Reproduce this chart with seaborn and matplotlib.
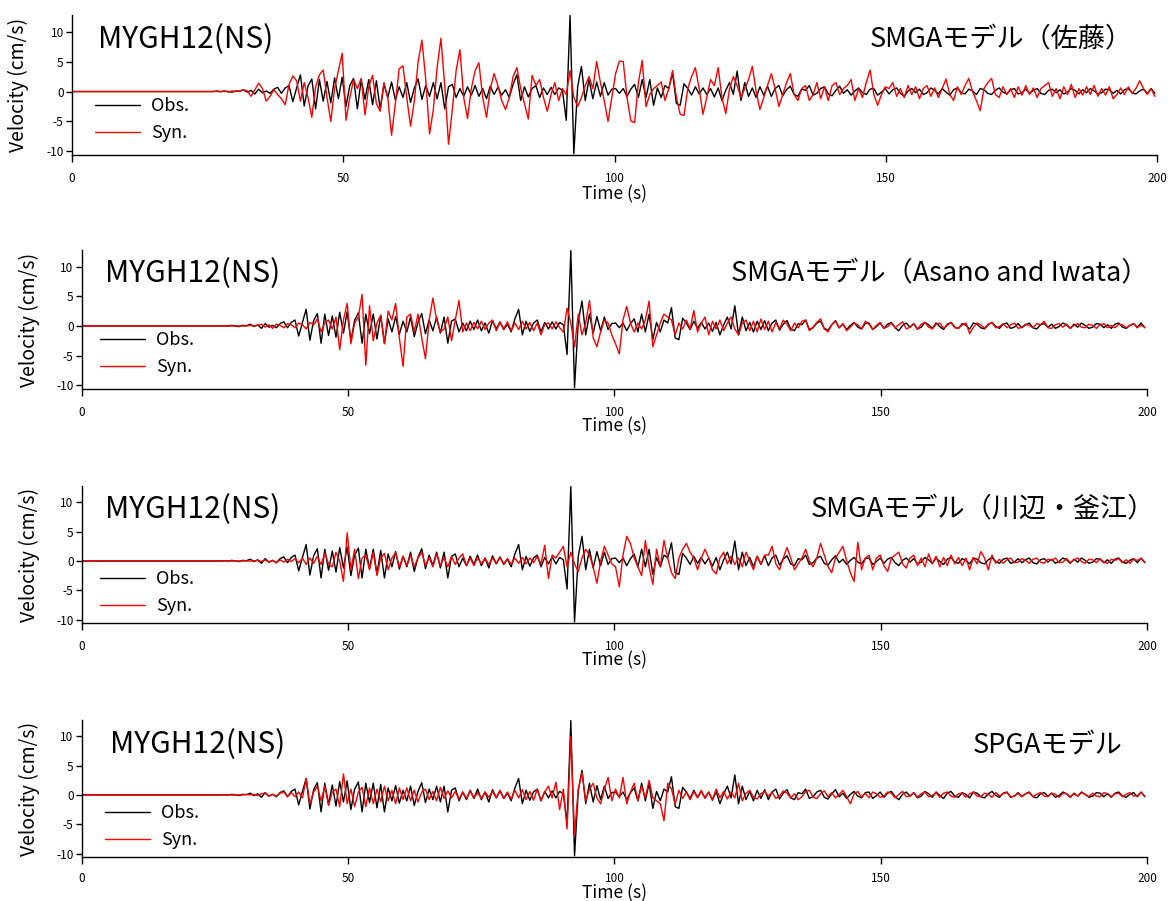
import numpy as np
import pandas as pd
import matplotlib
matplotlib.use("Agg")
import matplotlib.pyplot as plt
import seaborn as sns

# sampled traces: first sample at t_start, step dt (s); zero before t_start
t_start = 26.0
dt = 0.7

obs = [0, 0.05, -0.05, 0.1, 0, -0.1, 0.1, 0.05, 0.3, -0.1,
       0.2, -0.4, 0.4, -0.2, 0.1, -0.3, 0.4, 0.7, -0.3, 0.6,
       1.0, -1.7, 0.6, 2.8, -2.4, 0.9, 2.1, -2.9, 2.0, -1.6,
       1.7, -1.9, 2.3, -1.2, 2.4, -2.5, 1.0, 2.2, -2.9, 2.0,
       -1.3, 2.0, -2.2, 1.8, -2.9, 1.2, -1.0, 1.6, -1.4, 0.8,
       -1.0, 1.5, -1.8, 0.6, 2.1, -1.3, 1.0, -0.8, 1.5, -1.2,
       1.5, -2.9, 0.8, 1.2, -1.0, 0.5, -0.8, 0.8, -0.6, 1.0,
       -0.8, 0.5, -1.2, 0.9, -0.5, 0.7, -0.6, 0.3, -1.0, 1.2,
       2.8, -1.5, 0.8, -0.9, 0.5, 1.0, -1.0, 0.6, -0.5, 0.7,
       -0.5, 0.6, 0.2, -4.8, 12.7, -10.4, 0.8, 4.2, -1.5, 2.0,
       -1.2, 1.6, -0.8, 1.5, -0.6, 0.4, 0.5, -0.3, 0.5, -0.8,
       0.4, 1.2, -1.0, 2.0, -1.0, 2.0, -2.3, 0.6, -1.0, 1.0,
       0.5, 3.1, -2.0, -2.3, 1.3, 0.5, -0.6, 0.8, -0.4, 0.6,
       -0.5, 0.5, -0.9, 0.6, -1.5, 0.2, 1.5, -0.5, 3.4, -1.5,
       1.5, -0.8, 0.6, -1.0, 0.8, -0.6, 0.9, -0.8, 0.5, 1.0,
       -0.7, 0.3, 0.9, -0.5, -0.8, 0.4, 0.2, 1.0, -0.6, -0.3,
       0.5, 0.8, -0.4, -0.7, 0.2, 0.9, -0.3, 0.3, -0.6, 0.1,
       0.6, -0.2, -0.5, 0.4, 0.5, -0.6, -0.1, 0.5, -0.4, 0.3,
       0.6, -0.3, -0.8, 0.1, 0.5, -0.2, 0.4, -0.5, -0.2, 0.6,
       0.2, -0.4, 0.5, -0.1, -0.6, 0.3, 0.6, -0.2, -0.4, 0.4,
       0.1, -0.5, 0.5, 0.3, -0.3, -0.5, 0.2, 0.6, -0.1, -0.4,
       0.3, 0.5, -0.4, -0.2, 0.4, -0.3, 0.2, 0.5, -0.3, -0.5,
       0.2, 0.4, -0.2, 0.3, -0.4, -0.1, 0.5, 0.2, -0.4, 0.3,
       -0.2, 0.5, 0.1, -0.4, -0.2, 0.4, 0.3, -0.3, 0.2, -0.4,
       0.3, 0.5, -0.2, -0.4, 0.1, 0.4, -0.3, 0.5, -0.3]

syn_sato = [0, 0.1, 0, 0.1, -0.1, 0.1, 0, 0.1, 0.3, 0.1,
            -0.8, 0.3, 1.4, 0.5, -1.6, -0.8, 0.3, -0.5, -1.2, -2.2,
            1.2, 2.6, 1.8, -1.6, 1.5, -1.0, -4.3, 0.8, 2.8, 3.6,
            -1.0, -5.0, 0.5, 3.5, 6.4, -4.8, -1.0, 2.0, 0.5, 2.2,
            -3.9, 0.8, 2.7, -2.0, -3.3, 1.5, -1.0, -7.3, -2.0, 3.8,
            4.3, -1.0, -5.8, -1.5, 5.0, 8.6, 2.0, -7.1, -3.0, 4.0,
            8.9, 1.0, -8.8, -3.0, 3.5, 7.0, -1.0, -4.5, 0.5, 3.5,
            4.8, -1.0, -4.3, 0.5, 3.0, 1.0, -1.5, -3.0, -1.0, 2.5,
            4.0, 0.5, -2.0, -4.6, 2.7, 1.0, 2.0, -1.0, -3.3, -0.5,
            1.5, -1.5, 0.5, -0.5, 3.5, -1.0, -2.5, -1.0, 1.0, 2.5,
            0.5, 5.0, 1.5, -1.5, -5.0, -1.0, 3.0, 5.1, 5.0, -1.0,
            -4.9, -5.2, 1.5, 5.2, -2.5, -0.5, 0.5, 1.0, 1.6, -1.5,
            0.5, 3.5, -1.0, -3.8, -4.0, 0.5, 2.5, 4.0, 0.5, -3.8,
            -1.0, 2.0, 1.0, 4.0, -1.0, -3.7, 0.5, 2.5, 1.0, -1.0,
            0.5, 2.0, 4.2, 0.0, -3.0, -1.0, 1.0, 3.0, 0.5, -2.5,
            -0.5, 1.5, 3.0, -0.5, -1.5, 0.5, 1.0, -1.5, -0.5, 1.5,
            -1.2, 0.8, -1.5, 1.0, 1.5, -0.5, 0.5, 1.0, 2.0, -1.5,
            0.5, -1.0, 1.5, 3.6, -0.5, -2.3, -0.5, 0.8, 0.5, 1.5,
            -0.8, 0.5, -1.0, 1.0, -0.5, 0.8, -1.2, 0.5, 1.0, -0.8,
            0.6, -1.0, 0.5, 2.1, -0.5, -1.5, 0.8, -0.5, 1.0, 2.2,
            0.0, -1.5, -3.2, 0.5, 1.5, 2.2, -0.5, -1.0, 0.8, -0.5,
            0.5, -1.0, 0.8, -0.6, 1.0, -0.5, 0.6, -1.0, 0.5, 1.0,
            1.5, -0.8, 0.5, -1.2, 0.8, -0.5, 1.2, -1.0, 0.5, -0.6,
            0.8, -0.5, 1.0, -0.8, 0.5, -0.6, 0.8, -1.2, -0.5, 0.6,
            -0.5, 0.8, -0.3, 0.5, 1.8, 0.5, -0.5, 0.5, -0.8]

syn_asano = [0, 0, 0, 0, 0, 0, 0, 0, 0.1, 0,
             0.1, 0.3, -0.2, 0.2, -0.4, 0.3, 0.1, -0.3, 0.4, 0.2,
             -0.3, 0.5, 0.2, -0.5, 0.6, 0.2, 1.2, -1.0, 0.5, 1.0,
             -0.5, 1.5, -4.0, 1.0, 3.8, -3.0, 0.5, 1.5, 5.3, -6.6,
             3.4, -2.5, 0.5, 1.8, -3.0, 2.5, 1.0, 3.8, -2.0, -6.8,
             1.5, 2.0, -1.0, 2.0, -2.0, -5.5, 1.0, 4.7, 1.0, -1.0,
             -0.5, 1.5, -2.5, 1.0, 4.3, -1.0, 0.5, -0.8, 0.6, -0.5,
             0.8, -0.6, 0.5, 1.0, -0.8, 0.6, -0.5, 0.7, -0.8, 0.5,
             -0.6, 0.8, -0.5, 0.6, -0.8, 0.5, -1.5, 0.3, 0.5, -0.5,
             0.7, -0.3, -1.0, 3.0, 0.5, -3.5, 2.0, -1.5, 0.5, 4.3,
             -2.0, -3.5, -1.0, 1.0, 0.5, -1.5, -3.0, -4.7, 1.0, 3.3,
             0.5, -1.0, 0.5, -0.5, 1.0, 4.2, -3.5, -1.5, 0.5, 2.0,
             1.5, 1.0, -1.5, 0.5, -0.5, 1.0, -0.5, 2.6, -1.0, 0.5,
             1.5, -1.5, 0.8, -0.5, 1.0, -0.8, 0.5, 1.5, -0.5, -1.5,
             0.5, 1.0, -0.8, 0.8, -1.0, 1.2, -0.6, 0.8, -1.0, 0.6,
             -0.5, 1.0, 0.3, -0.8, 0.5, -0.3, 0.8, 1.0, -0.8, -0.2,
             0.6, 1.2, -0.5, -1.0, 0.2, 0.8, -0.3, 0.4, -0.8, -0.2,
             0.5, 0.2, -0.5, 0.8, 0.3, -0.6, 0.1, 0.6, -0.4, -0.1,
             0.5, -0.3, 0.2, 0.7, -0.5, -0.2, 0.4, -0.6, 0.3, 0.6,
             -0.2, -0.5, 0.3, 0.5, -0.4, 0.1, 0.6, -0.3, -0.4, 0.2,
             0.5, -1.3, -0.2, 0.5, 0.2, -0.4, 0.3, 0.6, -0.3, -0.1,
             0.4, -0.3, 0.2, 0.5, -0.4, -0.2, 0.3, 0.1, -0.3, 0.4,
             0.2, 0.8, -0.3, -0.4, 0.2, 0.4, -0.2, 0.3, -0.4, 0.1,
             0.4, -0.2, -0.3, 0.3, 0.1, -0.4, 0.2, 0.4, -0.3, 0.1,
             -0.3, 0.3, 0.2, -0.3, 0.1, 0.4, -0.2, 0.1, -0.2]

syn_kawabe = [0, 0, 0, 0, 0, 0, 0, 0, 0, 0,
              0.1, -0.1, 0.2, -0.2, 0.1, -0.3, 0.2, -0.2, 0.3, -0.1,
              0.4, -0.3, 0.5, -0.6, 0.5, -0.4, 0.8, -0.6, 1.3, -0.5,
              -1.0, 1.5, 0.0, -3.5, 4.8, -1.5, 2.0, -3.0, 0.5, 1.0,
              -1.5, 1.5, -2.5, 0.5, 1.3, -1.5, 0.5, 1.4, -1.0, 0.8,
              -0.8, 1.0, -1.0, 0.5, 1.5, -0.8, 0.6, -1.0, 1.2, -0.8,
              0.6, -1.0, 0.8, -0.6, 0.5, 1.2, -0.8, 0.5, -0.8, 0.6,
              -0.5, 0.4, -0.6, 0.5, -0.4, 0.6, -0.5, 0.4, -0.6, 0.5,
              -0.4, 0.6, -0.5, 0.5, -0.3, 0.8, -0.5, 2.7, -3.0, 1.0,
              0.5, 1.5, 2.5, -1.0, 1.5, -0.5, -1.8, 0.5, 2.0, 1.0,
              -1.0, -3.8, 0.0, 2.5, 1.0, -0.5, -1.0, -4.4, 1.0, 4.2,
              3.0, 0.5, -1.0, -2.5, 3.5, -1.0, -4.0, 2.0, -1.0, 3.5,
              0.5, -2.0, -3.0, 0.5, 2.0, 3.0, 1.5, 0.5, -1.5, 0.5,
              2.0, 0.5, -1.5, -2.2, 0.5, 1.5, -0.5, 0.8, -0.6, 0.5,
              -1.0, 1.5, 0.0, -1.5, 0.8, -0.5, 1.0, 1.0, 2.5, -0.5,
              -1.5, 0.5, 2.3, 0.5, -1.5, -0.5, 0.5, 2.0, 0.0, -1.0,
              0.5, 3.0, 1.0, -1.0, -2.0, 0.5, 1.5, 2.5, 0.0, -2.0,
              -3.5, 3.2, -1.5, 0.5, 1.0, -1.5, 0.5, 1.0, -0.8, -1.8,
              0.5, 1.0, 1.5, -0.5, -1.2, 0.5, 1.0, -0.8, 0.5, -1.0,
              1.2, -0.5, 0.8, -1.0, 0.6, -0.8, 1.0, -0.5, 0.6, -0.8,
              0.5, -1.5, 0.6, -0.5, 1.6, 0.5, -1.5, 1.0, -0.4, 0.3,
              -0.4, 0.2, 0.5, -0.3, -0.2, 0.4, 0.1, -0.4, 0.3, 0.5,
              -0.2, -0.4, 0.3, 0.1, 0.5, -0.3, -0.2, 0.4, -0.3, 0.2,
              0.5, -0.1, -0.4, 0.3, 0.2, -0.3, 0.4, -0.2, -0.4, 0.3,
              0.1, 0.4, -0.3, 0.2, -0.4, 0.3, 0.1, 0.4, -0.2]

syn_spga = [0, 0, 0, 0, 0, 0, 0, 0.1, 0, 0.1,
            -0.1, 0.2, 0.3, -0.2, 0.1, -0.2, 0.3, 0.5, -0.3, 0.4,
            -0.3, 0.5, -0.5, 2.8, -1.5, 0.5, 1.5, -1.0, 1.5, -1.8,
            0.5, 1.0, -2.0, 3.6, -1.5, 1.0, -2.0, 0.5, 1.3, -2.0,
            1.2, -1.5, 1.0, -1.2, 1.5, -1.0, 0.8, -1.5, 1.2, -0.8,
            1.2, -1.0, 0.8, -1.2, 0.5, 1.0, -0.8, 0.6, -1.0, 1.3,
            -0.6, 0.7, -0.5, 0.6, -0.7, 0.5, -0.6, 0.7, -0.5, 0.4,
            -0.6, 0.5, -0.4, 0.6, -0.5, 0.8, -0.6, 0.5, -0.7, 0.8,
            -0.5, 0.9, -0.8, 0.6, -0.9, 1.0, -1.0, 0.5, 1.5, -0.5,
            2.2, -2.5, 1.0, -5.8, 10.0, -6.8, 1.0, 3.8, -1.0, 1.0,
            2.0, -0.5, -1.5, 1.0, 3.0, -1.0, 1.0, -0.5, 3.0, -1.5,
            0.5, 2.0, -1.0, 1.5, -0.5, 2.5, -0.5, -1.0, -1.5, -4.4,
            2.0, 1.0, -1.5, 0.8, -0.6, 0.5, -0.8, 0.6, -0.5, 0.8,
            -0.6, 0.5, -0.8, 1.0, -0.5, 0.6, -0.7, 0.5, -0.5, 2.0,
            -1.0, 0.3, 0.8, -0.4, -0.7, 0.2, 0.6, -0.2, 0.5, -0.6,
            -0.2, 0.7, 0.3, -0.5, 0.2, -0.8, -0.3, 0.6, 0.8, -0.4,
            -0.6, 0.2, 0.7, -0.3, 0.4, -0.5, 0.1, 0.8, -0.3, -1.5,
            0.2, 0.6, -0.4, 0.3, -0.5, 0.5, 0.2, -0.4, -0.2, 0.5,
            0.3, -0.5, 0.1, 0.6, -0.3, -0.2, 0.4, -0.4, 0.2, 0.5,
            -0.3, -0.1, 0.4, -0.4, 0.3, 0.5, -0.2, -0.4, 0.2, 0.3,
            -0.4, 0.2, 0.5, -0.2, -0.3, 0.3, 0.1, -0.4, 0.4, -0.2,
            0.2, 0.4, -0.3, -0.2, 0.3, -0.3, 0.2, 0.4, -0.3, 0.1,
            0.4, -0.2, -0.3, 0.3, 0.1, -0.4, 0.3, 0.2, -0.3, 0.2,
            -0.2, 0.4, 0.1, -0.3, 0.3, -0.2, -0.3, 0.4, 0.2, -0.3,
            0.2, 0.3, -0.3, 0.1, 0.4, -0.2, -0.1, 0.4, -0.2]

station = "MYGH12(NS)"
models = ["SMGAモデル（佐藤）", "SMGAモデル（Asano and Iwata）",
          "SMGAモデル（川辺・釜江）", "SPGAモデル"]
syn_list = [syn_sato, syn_asano, syn_kawabe, syn_spga]
xticks = [0, 50, 100, 150, 200]
yticks = [-10, -5, 0, 5, 10]


def trace(vals):
    t = np.concatenate([[0.0], t_start + dt * np.arange(len(vals))])
    v = np.concatenate([[0.0], np.asarray(vals, dtype=float)])
    return pd.DataFrame({"time": t, "vel": v})


sns.set_style("ticks")
plt.rcParams["font.family"] = ["Noto Sans CJK JP", "DejaVu Sans"]
plt.rcParams["axes.unicode_minus"] = False
plt.rcParams["text.color"] = "black"
plt.rcParams["axes.labelcolor"] = "black"

fig = plt.figure(figsize=(11.73, 9.01), dpi=100)

# axes boxes [left, bottom, width, height]
boxes = [[0.0614, 0.8280, 0.9250, 0.1554],
         [0.0699, 0.5683, 0.9079, 0.1543],
         [0.0699, 0.3085, 0.9079, 0.1521],
         [0.0699, 0.0488, 0.9079, 0.1521]]
st_pos = [(0.024, 0.825), (0.0216, 0.83), (0.0216, 0.828), (0.0263, 0.82)]
mod_pos = [(0.978, 0.825), (1.001, 0.83), (1.008, 0.828), (0.977, 0.82)]
leg_pos = [(0.021, 0.415), (0.017, 0.415), (0.017, 0.385), (0.0216, 0.385)]
ylab_x = [-0.0498, -0.049, -0.049, -0.049]
xlab_y = [-0.28, -0.267, -0.275, -0.263]
xpad = [7, 7, 7, 5.5]

df_obs = trace(obs)

for i in range(4):
    ax = fig.add_axes(boxes[i])
    df_syn = trace(syn_list[i])
    sns.lineplot(data=df_obs, x="time", y="vel", color="black", lw=1.0,
                 estimator=None, sort=False, ax=ax, label="Obs.")
    sns.lineplot(data=df_syn, x="time", y="vel", color="red", lw=1.0,
                 estimator=None, sort=False, ax=ax, label="Syn.")
    ax.set_xlim(0, 200)
    ax.set_ylim(-10.6, 12.8)
    ax.set_xticks(xticks)
    ax.set_yticks(yticks)
    sns.despine(ax=ax)
    for s in ["left", "bottom"]:
        ax.spines[s].set_linewidth(1.0)
        ax.spines[s].set_color("black")
    ax.tick_params(axis="x", direction="out", length=5, width=1, pad=xpad[i],
                   labelsize=8.5, colors="black")
    ax.tick_params(axis="y", direction="out", length=4, width=1, pad=2,
                   labelsize=8.5, colors="black")
    ax.set_xlabel("Time (s)", fontsize=12.5)
    ax.xaxis.set_label_coords(0.5, xlab_y[i])
    ax.xaxis.label.set_va("center")
    ax.set_ylabel("Velocity (cm/s)", fontsize=14)
    ax.yaxis.set_label_coords(ylab_x[i], 0.5)
    ax.yaxis.label.set_va("center")

    ax.text(st_pos[i][0], st_pos[i][1], station, transform=ax.transAxes,
            fontsize=21.5, ha="left", va="center")
    ax.text(mod_pos[i][0], mod_pos[i][1], models[i], transform=ax.transAxes,
            fontsize=19.5, ha="right", va="center")
    ax.legend(loc="upper left", bbox_to_anchor=leg_pos[i], frameon=False,
              fontsize=13, handlelength=2.5, handletextpad=0.6,
              labelspacing=0.5, borderpad=0, borderaxespad=0)

fig.savefig("out.png", dpi=100)
